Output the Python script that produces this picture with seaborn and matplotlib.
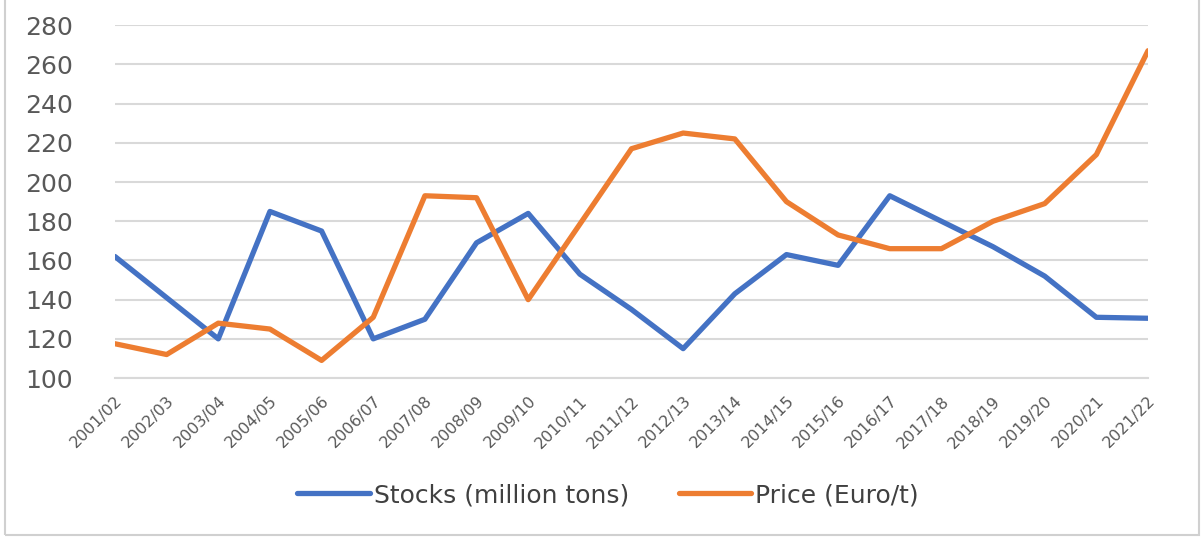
import pandas as pd
import seaborn as sns
import matplotlib.pyplot as plt
from matplotlib.patches import Rectangle

# data
seasons = ['2001/02', '2002/03', '2003/04', '2004/05', '2005/06', '2006/07', '2007/08',
           '2008/09', '2009/10', '2010/11', '2011/12', '2012/13', '2013/14', '2014/15',
           '2015/16', '2016/17', '2017/18', '2018/19', '2019/20', '2020/21', '2021/22']
stocks = [162, 141, 120, 185, 175, 120, 130, 169, 184, 153, 135, 115, 143, 163,
          157.5, 193, 180, 167, 152, 131, 130.5]
price = [117.5, 112, 128, 125, 109, 131, 193, 192, 140, 178.5, 217, 225, 222, 190,
         173, 166, 166, 180, 189, 214, 267]
y_ticks = list(range(100, 281, 20))

df = pd.DataFrame({
    'x': list(range(len(seasons))) * 2,
    'value': stocks + price,
    'series': ['Stocks (million tons)'] * len(seasons) + ['Price (Euro/t)'] * len(seasons),
})

sns.set_style('white')
plt.rcParams['font.family'] = ['DejaVu Sans']

fig = plt.figure(figsize=(12.04, 5.37), dpi=100)
ax = fig.add_axes([0.0955, 0.296, 0.858, 0.657])

sns.lineplot(data=df, x='x', y='value', hue='series',
             palette=['#4472C4', '#ED7D31'], linewidth=3.8, ax=ax,
             solid_capstyle='round', legend=True)

ax.set_xlim(0, len(seasons) - 1)
ax.set_ylim(100, 280)
ax.set_yticks(y_ticks)
ax.set_yticklabels([str(t) for t in y_ticks], fontsize=18, color='#595959')
ax.set_xticks(range(len(seasons)))
ax.set_xticklabels(seasons, rotation=45, ha='right', rotation_mode='anchor',
                   fontsize=11.5, color='#595959')
ax.tick_params(axis='x', direction='out', length=7, width=1.2, color='#D9D9D9', pad=4)
ax.tick_params(axis='y', length=0, pad=30)
ax.grid(axis='y', color='#D9D9D9', linewidth=1.5)
ax.set_axisbelow(True)
for s in ['left', 'right', 'top']:
    ax.spines[s].set_visible(False)
ax.spines['bottom'].set_color('#D9D9D9')
ax.spines['bottom'].set_linewidth(1.5)
ax.set_xlabel('')
ax.set_ylabel('')

ax.legend(loc='center', bbox_to_anchor=(0.505, 0.078), bbox_transform=fig.transFigure,
          ncol=2, frameon=False, fontsize=18, handlelength=2.9, columnspacing=2.0,
          handletextpad=0.15, labelcolor='#404040')

# light chart border
fig.patches.append(Rectangle((0.004, 0.004), 0.992, 1.2, transform=fig.transFigure,
                             fill=False, edgecolor='#D0D0D0', linewidth=1.5))

fig.savefig('out.png', dpi=100)
